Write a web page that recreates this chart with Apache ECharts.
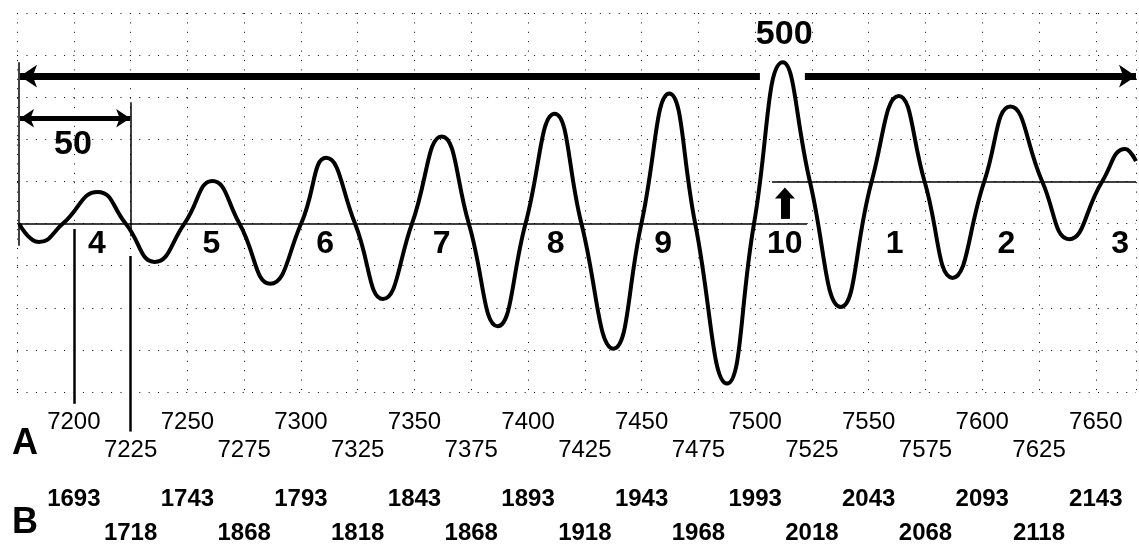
<!DOCTYPE html>
<html>
<head>
<meta charset="utf-8">
<style>
html, body { margin: 0; padding: 0; background: #fff; }
#chart { width: 1139px; height: 545px; }
</style>
<script src="https://cdn.jsdelivr.net/npm/echarts@6/dist/echarts.min.js"></script>
</head>
<body>
<div id="chart"></div>
<script>
// Wave trace: [position on scale A, height in grid squares above the base line]
const wave = [
    [7175.9, 0], [7184.6, -0.44], [7195.2, 0], [7210.5, 0.75], [7222.8, 0], [7235.6, -0.91],
    [7248.7, 0], [7261.0, 1.01], [7272.9, 0], [7286.5, -1.43], [7300.1, 0], [7311.1, 1.56],
    [7323.8, 0], [7336.1, -1.79], [7348.9, 0], [7362.0, 2.07], [7373.9, 0], [7386.6, -2.44],
    [7398.9, 0], [7411.7, 2.61], [7423.5, 0], [7437.6, -2.97], [7449.9, 0], [7462.2, 3.09],
    [7473.6, 0], [7487.6, -3.80], [7499.5, 0], [7512.2, 3.83], [7524.1, 1], [7537.7, -1.98],
    [7551.3, 1], [7563.2, 3.03], [7574.6, 1], [7586.9, -1.29], [7600.9, 1], [7612.4, 2.78],
    [7626.4, 1], [7638.3, -0.37], [7652.8, 1], [7662.9, 1.77], [7667.7, 1.48],
];

// thin rule lines, each [[x1, y1], [x2, y2]]
const baseLines = [
    [[7175.9, 0], [7522.8, 0]],
    [[7507.4, 1], [7667.7, 1]],
    [[7175.9, 3.83], [7175.9, -0.53]],
    [[7225.0, 2.88], [7225.0, -0.30]],
];
const markerLines = [
    [[7200.0, -0.13], [7200.0, -4.28]],
    [[7225.0, -0.77], [7225.0, -4.94]],
];

// arrows (tip at the end that carries a head)
const arrow500Left = [[7176.3, 3.5], [7502.1, 3.5]];
const arrow500Right = [[7521.9, 3.5], [7667.7, 3.5]];
const arrow50 = [[7176.3, 2.5], [7224.8, 2.5]];
const arrowUp = [[7513.1, 0.11], [7513.1, 0.62]];

// text annotations
const waveNumbers = ['4', '5', '6', '7', '8', '9', '10', '1', '2', '3'];
const waveNumberX = [7210.1, 7260.6, 7310.7, 7362.0, 7412.1, 7459.5, 7513.0, 7561.4, 7610.6, 7660.7];
const waveNumberY = -0.5;
const spanLabels = [
    { name: '500', value: [7512.8, 4.49] },
    { name: '50', value: [7199.6, 1.88] },
];
const rowLetters = [
    { name: 'A', value: [7178.5, -5.23] },
    { name: 'B', value: [7178.5, -7.12] },
];

// tick labels (alternating rows)
const aUpper = ['7200', '7250', '7300', '7350', '7400', '7450', '7500', '7550', '7600', '7650'];
const aLower = ['7225', '7275', '7325', '7375', '7425', '7475', '7525', '7575', '7625'];
const bUpper = ['1693', '1743', '1793', '1843', '1893', '1943', '1993', '2043', '2093', '2143'];
const bLower = ['1718', '1868', '1818', '1868', '1918', '1968', '2018', '2068', '2118'];

const FONT = '"Liberation Sans", Arial, sans-serif';
const X_MIN = 7175, X_MAX = 7667.7;
// wide, flat arrow head; the stray move point keeps the box square
const FLAT_HEAD = 'path://M0,11L10,0L20,11Z M10,20';

function rowLabel(upper, lower, wantUpper) {
    return v => {
        const k = Math.round((v - 7200) / 25);
        if (Math.abs(v - (7200 + k * 25)) > 0.01 || k < 0) return '';
        if (k % 2 === 0) return wantUpper ? (upper[k / 2] || '') : '';
        return wantUpper ? '' : (lower[(k - 1) / 2] || '');
    };
}

function labelAxis(labels, margin, weight, showSplit) {
    return {
        type: 'value',
        position: 'bottom',
        min: X_MIN,
        max: X_MAX,
        interval: 25,
        axisLine: { show: false },
        axisTick: { show: false },
        splitLine: {
            show: showSplit,
            lineStyle: { color: '#000', width: 1, type: [1, 8.4] },
        },
        axisLabel: {
            margin: margin,
            color: '#000',
            fontSize: 24,
            fontWeight: weight,
            fontFamily: FONT,
            showMinLabel: true,
            showMaxLabel: true,
            formatter: labels,
        },
    };
}

function ruleSeries(segs, width) {
    return {
        type: 'lines',
        coordinateSystem: 'cartesian2d',
        clip: false,
        silent: true,
        symbol: ['none', 'none'],
        lineStyle: { color: '#000', width: width, opacity: 1 },
        data: segs.map(s => ({ coords: s })),
    };
}

function arrowSeries(coords, heads, width, headSize) {
    return {
        type: 'lines',
        coordinateSystem: 'cartesian2d',
        clip: false,
        silent: true,
        symbol: heads,
        symbolSize: headSize,
        lineStyle: { color: '#000', width: width, opacity: 1 },
        itemStyle: { color: '#000', opacity: 1 },
        data: [{ coords: coords }],
    };
}

function textSeries(items, size) {
    return {
        type: 'scatter',
        clip: false,
        silent: true,
        symbolSize: 0,
        itemStyle: { color: '#000', opacity: 1 },
        data: items,
        label: {
            show: true,
            position: 'inside',
            formatter: p => p.name,
            color: '#000',
            opacity: 1,
            textBorderWidth: 0,
            fontSize: size,
            fontWeight: 'bold',
            fontFamily: FONT,
        },
    };
}

const chart = echarts.init(document.getElementById('chart'));
chart.setOption({
    animation: false,
    backgroundColor: '#fff',
    grid: { left: 17.07, right: 0, top: 13, bottom: 152, containLabel: false },
    xAxis: [
        labelAxis(rowLabel(aUpper, aLower, true), 18, 'normal', true),
        labelAxis(rowLabel(aUpper, aLower, false), 46, 'normal', false),
        labelAxis(rowLabel(bUpper, bLower, true), 95, 'bold', false),
        labelAxis(rowLabel(bUpper, bLower, false), 129, 'bold', false),
    ],
    yAxis: {
        type: 'value',
        min: -4,
        max: 5,
        interval: 1,
        axisLine: { show: false },
        axisTick: { show: false },
        axisLabel: { show: false },
        splitLine: { lineStyle: { color: '#000', width: 1, type: [1, 8.4] } },
    },
    series: [
        {
            type: 'line',
            data: wave,
            smooth: 0.5,
            symbol: 'none',
            clip: false,
            lineStyle: { color: '#000', width: 4 },
        },
        ruleSeries(baseLines, 1.5),
        ruleSeries(markerLines, 2.5),
        arrowSeries(arrow500Left, ['arrow', 'none'], 7, [17, 17]),
        arrowSeries(arrow500Right, ['none', 'arrow'], 7, [17, 17]),
        arrowSeries(arrow50, ['arrow', 'arrow'], 5, [14, 14]),
        arrowSeries(arrowUp, ['none', FLAT_HEAD], 9, [0, 20]),
        textSeries(waveNumbers.map((n, i) => ({ name: n, value: [waveNumberX[i], waveNumberY] })), 32),
        textSeries(spanLabels, 34),
        textSeries(rowLetters, 36),
    ],
});
</script>
</body>
</html>
